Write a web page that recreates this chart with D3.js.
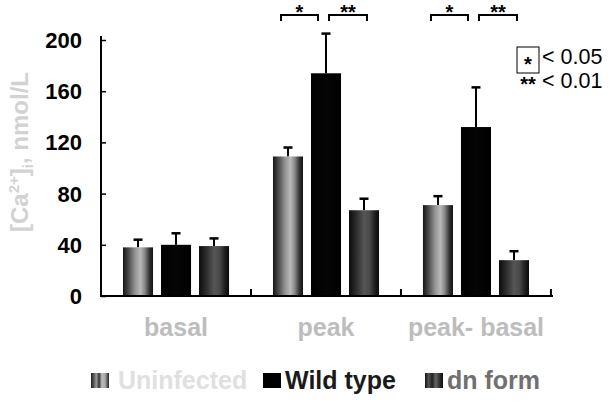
<!DOCTYPE html>
<html>
<head>
<meta charset="utf-8">
<script src="https://cdn.jsdelivr.net/npm/d3@7"></script>
<style>
  html, body { margin: 0; padding: 0; background: #fff; }
  svg { display: block; }
  text { font-family: "Liberation Sans", Arial, Helvetica, sans-serif; }
</style>
</head>
<body>
<svg id="chart" width="612" height="401"></svg>
<script>
// Intracellular calcium, mean + SEM, per condition and construct
const categories = ["basal", "peak", "peak- basal"];
const seriesNames = ["Uninfected", "Wild type", "dn form"];
const uninfected = [38, 109, 71];
const wildType = [40, 174, 132];
const dnForm = [39, 67, 28];
const uninfectedErr = [6, 7, 7];
const wildTypeErr = [9, 31, 31];
const dnFormErr = [6, 9, 7];
const yTicks = [0, 40, 80, 120, 160, 200];
// significance marks: [category, left series, right series, label]
const significance = [
  ["peak", 0, 1, "*"], ["peak", 1, 2, "**"],
  ["peak- basal", 0, 1, "*"], ["peak- basal", 1, 2, "**"]
];
const pLegend = [["*", "< 0.05"], ["**", "< 0.01"]];

const values = [uninfected, wildType, dnForm];
const errors = [uninfectedErr, wildTypeErr, dnFormErr];

const svg = d3.select("#chart");
const defs = svg.append("defs");

// cylinder-like horizontal shading for the bars
function gradient(id, stops) {
  const g = defs.append("linearGradient").attr("id", id)
    .attr("x1", "0%").attr("x2", "100%").attr("y1", "0%").attr("y2", "0%");
  stops.forEach(([o, c]) => g.append("stop").attr("offset", o).attr("stop-color", c));
}
gradient("g0", [[0, "#151515"], [0.18, "#4a4a4a"], [0.4, "#939393"], [0.58, "#b8b8b8"], [0.72, "#8a8a8a"], [0.88, "#333"], [1, "#111"]]);
gradient("g1", [[0, "#000"], [0.5, "#050505"], [1, "#000"]]);
gradient("g2", [[0, "#0c0c0c"], [0.25, "#2e2e2e"], [0.5, "#555"], [0.68, "#4a4a4a"], [0.85, "#222"], [1, "#080808"]]);
gradient("s0", [[0, "#222"], [0.15, "#555"], [0.3, "#999"], [0.45, "#333"], [0.6, "#bbb"], [0.78, "#aaa"], [1, "#222"]]);
gradient("s2", [[0, "#111"], [0.2, "#555"], [0.4, "#222"], [0.6, "#666"], [0.8, "#333"], [1, "#0a0a0a"]]);
const fills = ["url(#g0)", "url(#g1)", "url(#g2)"];
const swatchFills = ["url(#s0)", "#000", "url(#s2)"];

const x0 = d3.scaleBand().domain(categories).range([101, 551])
  .paddingInner(0.293).paddingOuter(0.1467);
const x1 = d3.scaleBand().domain(d3.range(seriesNames.length))
  .range([0, x0.bandwidth()]).paddingInner(0.21).paddingOuter(0);
const y = d3.scaleLinear().domain([0, 200]).range([296, 40]);

// y axis
const yAxis = svg.append("g").attr("transform", "translate(101,0)")
  .call(d3.axisRight(y).tickValues(yTicks).tickSize(5).tickFormat(""));
yAxis.select(".domain").attr("stroke", "#000").attr("stroke-width", 2)
  .attr("d", `M0,${y(200) - 4}V${y(0)}`);
yAxis.selectAll(".tick line").attr("stroke", "#000").attr("stroke-width", 1.5);

svg.append("g").selectAll("text").data(yTicks).join("text")
  .attr("x", 82).attr("y", d => y(d)).attr("dy", "0.36em")
  .attr("text-anchor", "end").attr("font-size", 22).attr("font-weight", "bold")
  .attr("fill", "#000").text(d => d);

// bars
const groups = svg.append("g").selectAll("g").data(categories).join("g")
  .attr("transform", d => `translate(${x0(d)},0)`);

groups.each(function(cat, ci) {
  const g = d3.select(this);
  const rows = seriesNames.map((s, si) => ({ si, v: values[si][ci], e: errors[si][ci] }));
  // error bars (upper half)
  g.selectAll("line.err").data(rows).join("line").attr("class", "err")
    .attr("x1", d => x1(d.si) + x1.bandwidth() / 2).attr("x2", d => x1(d.si) + x1.bandwidth() / 2)
    .attr("y1", d => y(d.v)).attr("y2", d => y(d.v + d.e))
    .attr("stroke", "#000").attr("stroke-width", 2);
  g.selectAll("line.cap").data(rows).join("line").attr("class", "cap")
    .attr("x1", d => x1(d.si) + x1.bandwidth() / 2 - 4.5).attr("x2", d => x1(d.si) + x1.bandwidth() / 2 + 4.5)
    .attr("y1", d => y(d.v + d.e)).attr("y2", d => y(d.v + d.e))
    .attr("stroke", "#000").attr("stroke-width", 2.5);
  g.selectAll("rect").data(rows).join("rect")
    .attr("x", d => x1(d.si)).attr("width", x1.bandwidth())
    .attr("y", d => y(d.v)).attr("height", d => y(0) - y(d.v))
    .attr("fill", d => fills[d.si]);
});

// x axis baseline with tick marks between categories
const step = x0.step();
const xAxis = svg.append("g");
xAxis.append("line").attr("x1", 100).attr("x2", 553).attr("y1", y(0)).attr("y2", y(0))
  .attr("stroke", "#000").attr("stroke-width", 2);
xAxis.selectAll("line.sep").data(categories.slice(1).concat(["end"])).join("line").attr("class", "sep")
  .attr("x1", (d, i) => 101 + step * (i + 1)).attr("x2", (d, i) => 101 + step * (i + 1))
  .attr("y1", y(0)).attr("y2", y(0) - 7).attr("stroke", "#000").attr("stroke-width", 2);

svg.append("g").selectAll("text").data(categories).join("text")
  .attr("x", d => x0(d) + x0.bandwidth() / 2).attr("y", 336)
  .attr("text-anchor", "middle").attr("font-size", 25).attr("font-weight", "bold")
  .attr("fill", "#bdbdbd").text(d => d);

// y axis title
const title = svg.append("text").attr("transform", "translate(28,152) rotate(-90)")
  .attr("text-anchor", "middle").attr("font-size", 24).attr("font-weight", "bold")
  .attr("fill", "#d2d2d2");
title.append("tspan").text("[Ca");
title.append("tspan").attr("font-size", 15).attr("dy", -9).text("2+");
title.append("tspan").attr("dy", 9).text("]");
title.append("tspan").attr("font-size", 15).attr("dy", 5).text("i");
title.append("tspan").attr("dy", -5).text(",  nmol/L");

// significance brackets
const cx = (cat, si) => x0(cat) + x1(si) + x1.bandwidth() / 2;
const sig = svg.append("g");
significance.forEach(([cat, a, b, lab], k) => {
  const left = k % 2 === 0 ? cx(cat, a) - 7 : cx(cat, a) + 3;
  const right = k % 2 === 0 ? cx(cat, b) - 8 : cx(cat, b) + 3;
  sig.append("path").attr("d", `M${left},21V15H${right}V21`)
    .attr("fill", "none").attr("stroke", "#000").attr("stroke-width", 2);
  sig.append("text").attr("x", (left + right) / 2).attr("y", 19)
    .attr("text-anchor", "middle").attr("font-size", 20).attr("font-weight", "bold")
    .text(lab);
});

// p-value key
const key = svg.append("g");
key.append("rect").attr("x", 517).attr("y", 47).attr("width", 22).attr("height", 26)
  .attr("fill", "none").attr("stroke", "#000").attr("stroke-width", 1);
pLegend.forEach(([mark, txt], i) => {
  key.append("text").attr("x", 528).attr("y", 71 + i * 20)
    .attr("text-anchor", "middle").attr("font-size", 20).attr("font-weight", "bold").text(mark);
  key.append("text").attr("x", 542).attr("y", 64 + i * 24)
    .attr("font-size", 21.5).attr("fill", "#000").text(txt);
});

// series legend
const legendX = [[91, 118], [263, 285], [425, 447]];
const legendColors = ["#e0e0e0", "#1a1a1a", "#707070"];
const leg = svg.append("g");
seriesNames.forEach((s, i) => {
  leg.append("rect").attr("x", legendX[i][0]).attr("y", 373).attr("width", 18).attr("height", 15)
    .attr("fill", swatchFills[i]);
  leg.append("text").attr("x", legendX[i][1]).attr("y", 389)
    .attr("font-size", 25).attr("font-weight", "bold").attr("fill", legendColors[i]).text(s);
});
</script>
</body>
</html>
